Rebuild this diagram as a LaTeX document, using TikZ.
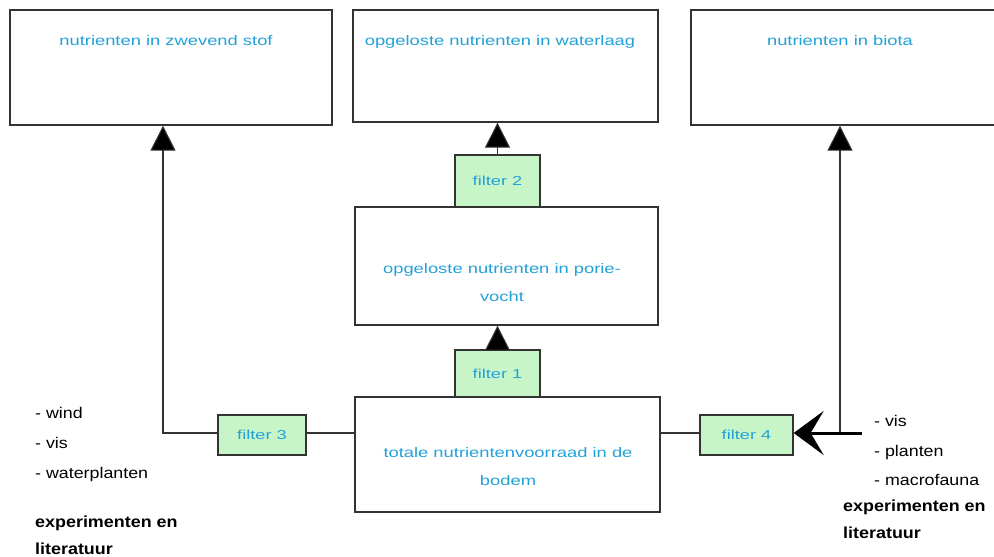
\documentclass[tikz,border=0pt]{standalone}
\usepackage{fontspec}
\setmainfont{Liberation Sans}
\newfontfamily\bluefont[FakeStretch=1.33]{Liberation Sans}
\newfontfamily\filtfont[FakeStretch=1.4]{Liberation Sans}
\newfontfamily\listfont[FakeStretch=1.15]{Liberation Sans}
\newfontfamily\boldlistfont[FakeStretch=1.12]{Liberation Sans}
\usetikzlibrary{arrows.meta}
\definecolor{txtblue}{HTML}{22A2D8}
\definecolor{filtgreen}{HTML}{C8F5C8}
\definecolor{edgegray}{HTML}{333333}
\begin{document}
\begin{tikzpicture}[x=1pt,y=-1pt,
  bigbox/.style={draw=edgegray,line width=1.3pt,fill=white,inner sep=0pt},
  btxt/.style={text=txtblue,font=\bluefont\fontsize{13.8}{27}\selectfont,align=center,inner sep=0pt},
  filt/.style={draw=edgegray,line width=1.3pt,fill=filtgreen,inner sep=0pt,text=txtblue,font=\filtfont\fontsize{13}{14}\selectfont},
  conn/.style={draw=edgegray,line width=1.1pt},
  tri/.style={-{Triangle[length=25pt,width=25pt,fill=black]}},
  lst/.style={anchor=base west,font=\listfont\fontsize{15.5}{16}\selectfont,inner sep=0pt},
  bld/.style={anchor=base west,font=\boldlistfont\bfseries\fontsize{16}{17}\selectfont,inner sep=0pt}
]
\useasboundingbox (0,0) rectangle (994,557);
% big boxes
\node[bigbox,minimum width=322pt,minimum height=115pt] (A) at (171,67.5) {};
\node[bigbox,minimum width=305pt,minimum height=112pt] (B) at (505.5,66) {};
\node[bigbox,minimum width=304pt,minimum height=115pt] (C) at (843,67.5) {};
\node[bigbox,minimum width=303pt,minimum height=118pt] (P) at (506.5,266) {};
\node[bigbox,minimum width=305pt,minimum height=115pt] (D) at (507.5,454.5) {};
\node[btxt,anchor=base] (At) at (166,45) {nutrienten in zwevend stof};
\node[btxt,anchor=base] (Bt) at (500,45) {opgeloste nutrienten in waterlaag};
\node[btxt,anchor=base] (Ct) at (840,45) {nutrienten in biota};
\node[btxt,anchor=base] (Pt) at (502,273) {opgeloste nutrienten in porie-};
\node[btxt,anchor=base] (Pt2) at (502,301) {vocht};
\node[btxt,anchor=base] (Dt) at (508,457) {totale nutrientenvoorraad in de};
\node[btxt,anchor=base] (Dt2) at (508,485) {bodem};
% filters
\node[filt,minimum width=85pt,minimum height=52pt] (F2) at (497.5,181) {filter 2};
\node[filt,minimum width=85pt,minimum height=47pt] (F1) at (497.5,373.5) {filter 1};
\node[filt,minimum width=88pt,minimum height=40pt] (F3) at (262,435) {filter 3};
\node[filt,minimum width=93pt,minimum height=40pt] (F4) at (746.5,435) {filter 4};
% connectors
\coordinate (L) at (163,433);
\coordinate (R) at (840,433);
\coordinate (E) at (862,433);
\draw[conn] (D.west |- 0,433) -- (F3.east |- 0,433);
\draw[conn,tri] (F3.west |- 0,433) -- (L) -- (L |- A.south);
\draw[conn] (D.east |- 0,433) -- (F4.west |- 0,433);
\draw[conn,tri] (R) -- (R |- C.south);
\draw[line width=3pt,-{Stealth[length=30pt,width=44pt,inset=13pt]}] (E) -- (F4.east |- 0,433);
\draw[conn,tri] (F2.north) -- (F2.north |- B.south);
\draw[conn,tri] (F1.north) -- (F1.north |- P.south);
% side texts
\node[lst] (w1) at (35,418) {- wind};
\node[lst] (w2) at (35,448) {- vis};
\node[lst] (w3) at (35,478) {- waterplanten};
\node[bld] (w4) at (35,527) {experimenten en};
\node[bld] (w5) at (35,554) {literatuur};
\node[lst] (v1) at (874,426) {- vis};
\node[lst] (v2) at (874,456) {- planten};
\node[lst] (v3) at (874,485) {- macrofauna};
\node[bld] (v4) at (843,511) {experimenten en};
\node[bld] (v5) at (843,538) {literatuur};
\end{tikzpicture}
\end{document}
